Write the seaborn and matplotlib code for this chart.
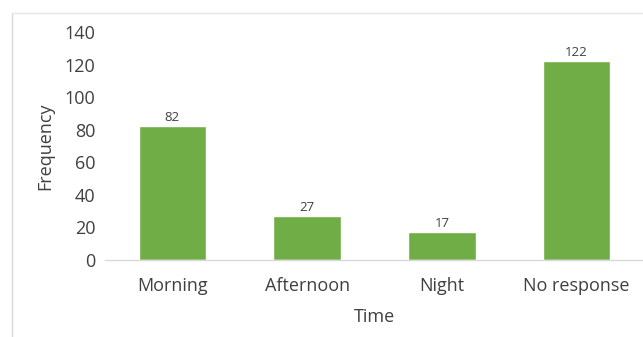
import matplotlib
matplotlib.use("Agg")
import matplotlib.pyplot as plt
import seaborn as sns
import pandas as pd
from matplotlib.lines import Line2D

categories = ["Morning", "Afternoon", "Night", "No response"]
frequency = [82, 27, 17, 122]
yticks = [0, 20, 40, 60, 80, 100, 120, 140]

sns.set_theme(style="white")
plt.rcParams['font.family'] = ['Open Sans', 'DejaVu Sans']

df = pd.DataFrame({"Time": categories, "Frequency": frequency})

fig = plt.figure(figsize=(6.43, 3.37), dpi=100)
ax = fig.add_axes([105/643, 77/337, 539/643, 228/337])
sns.barplot(data=df, x="Time", y="Frequency", color="#70AD47", saturation=1,
            width=0.5, ax=ax)

for i, v in enumerate(frequency):
    ax.text(i, v + 1.5, str(v), ha="center", va="bottom", fontsize=9.5, color="#404040")

ax.set_ylim(0, 140)
ax.set_xlim(-0.5, 3.5)
ax.set_yticks(yticks)
ax.set_yticklabels([str(t) for t in yticks], fontsize=13, color="#404040")
ax.tick_params(axis="x", labelsize=13, labelcolor="#404040", length=0, pad=12)
ax.tick_params(axis="y", length=0, pad=7)
for s in ["top", "right", "left"]:
    ax.spines[s].set_visible(False)
ax.spines["bottom"].set_color("#D9D9D9")
ax.spines["bottom"].set_linewidth(1)
ax.set_xlabel("Time", fontsize=13, color="#404040")
ax.set_ylabel("Frequency", fontsize=13, color="#404040")
ax.yaxis.set_label_coords((45 - 105) / 539, 0.5)
ax.xaxis.set_label_coords(0.5, -(317 - 260) / 228)
ax.yaxis.label.set_va("center")
ax.xaxis.label.set_va("center")

fig.add_artist(Line2D([12/643, 12/643], [0, 1 - 13/337], color="#D9D9D9", lw=1, transform=fig.transFigure))
fig.add_artist(Line2D([12/643, 1], [1 - 13/337, 1 - 13/337], color="#E6E6E6", lw=1, transform=fig.transFigure))

fig.savefig("out.png", dpi=100)
